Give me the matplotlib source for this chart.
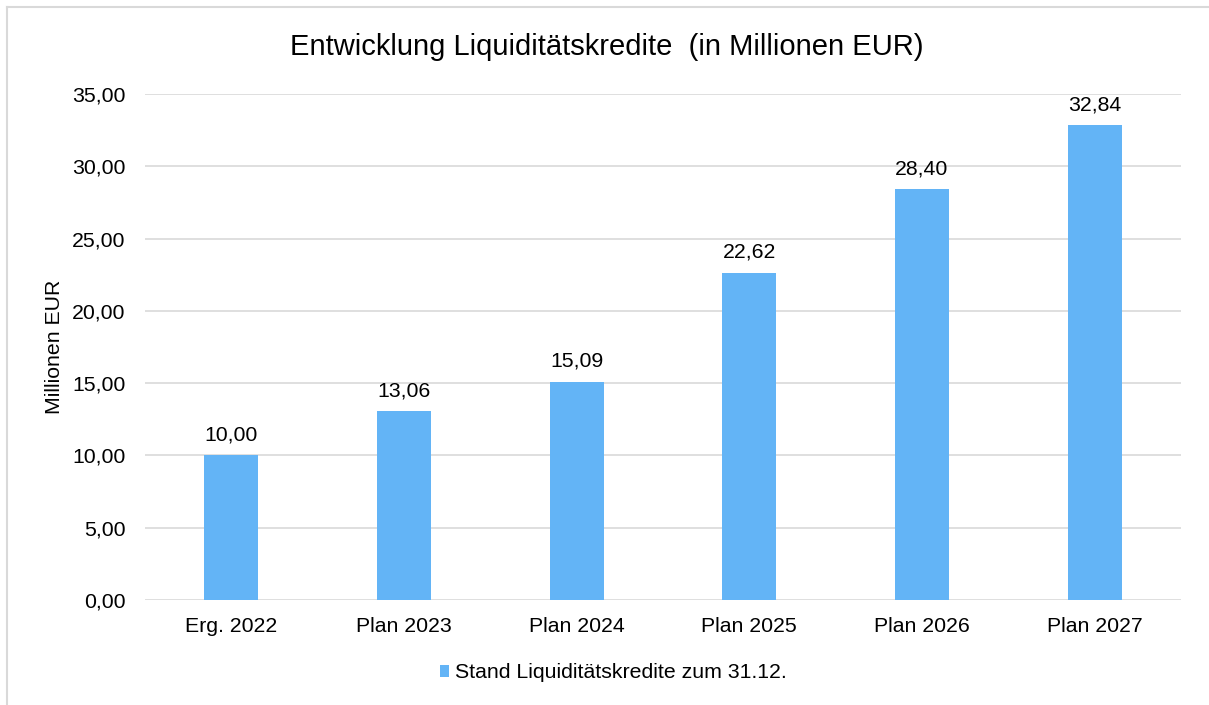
import matplotlib
matplotlib.use("Agg")
import matplotlib.pyplot as plt
from matplotlib.lines import Line2D

plt.rcParams['font.family'] = ['Liberation Sans', 'DejaVu Sans']

categories = ["Erg. 2022", "Plan 2023", "Plan 2024", "Plan 2025", "Plan 2026", "Plan 2027"]
values = [10.00, 13.06, 15.09, 22.62, 28.40, 32.84]
series_name = "Stand Liquiditätskredite zum 31.12."
title = "Entwicklung Liquiditätskredite  (in Millionen EUR)"
ylabel = "Millionen EUR"
yticks = [0, 5, 10, 15, 20, 25, 30, 35]

W, H, DPI = 1209, 705, 100
fig = plt.figure(figsize=(W / DPI, H / DPI), dpi=DPI)
fig.patch.set_facecolor("white")

# outer border (left and top edges visible)
bx, by = 6.5 / W, 1 - 6.5 / H
fig.lines.append(Line2D([bx, bx], [0, by], transform=fig.transFigure, color="#d9d9d9", linewidth=1.5))
fig.lines.append(Line2D([bx, 1], [by, by], transform=fig.transFigure, color="#d9d9d9", linewidth=1.5))

left, right, top, bottom = 145, 1181, 94, 600
ax = fig.add_axes([left / W, 1 - bottom / H, (right - left) / W, (bottom - top) / H])

bar_color = "#63B4F6"
x = list(range(len(categories)))
bars = ax.bar(x, values, width=0.313, color=bar_color, zorder=3, label=series_name)

ax.set_xlim(-0.5, len(categories) - 0.5)
ax.set_ylim(0, 35)
ax.set_yticks(yticks)
ax.set_yticklabels([f"{v:.2f}".replace(".", ",") for v in yticks])
ax.set_xticks(x)
ax.set_xticklabels(categories)
ax.grid(axis="y", color="#d9d9d9", linewidth=1.2, zorder=0)
for s in ax.spines.values():
    s.set_visible(False)
fs = 15.3
ax.tick_params(axis="both", length=0, labelsize=fs, colors="#000000")
ax.tick_params(axis="y", pad=14)
ax.tick_params(axis="x", pad=12)

for xi, v in zip(x, values):
    ax.annotate(f"{v:.2f}".replace(".", ","), (xi, v), xytext=(0, 8),
                textcoords="offset points", ha="center", va="bottom", fontsize=fs)

ax.set_ylabel(ylabel, fontsize=fs, labelpad=6)
fig.text(607 / W, 1 - 47 / H, title, ha="center", va="center", fontsize=21)

leg = fig.legend(handles=[bars], labels=[series_name], loc="center",
                 bbox_to_anchor=(613 / W, 1 - 673 / H), frameon=False, fontsize=fs,
                 handlelength=0.45, handleheight=0.45, handletextpad=0.25)

fig.savefig("out.png", dpi=DPI)
